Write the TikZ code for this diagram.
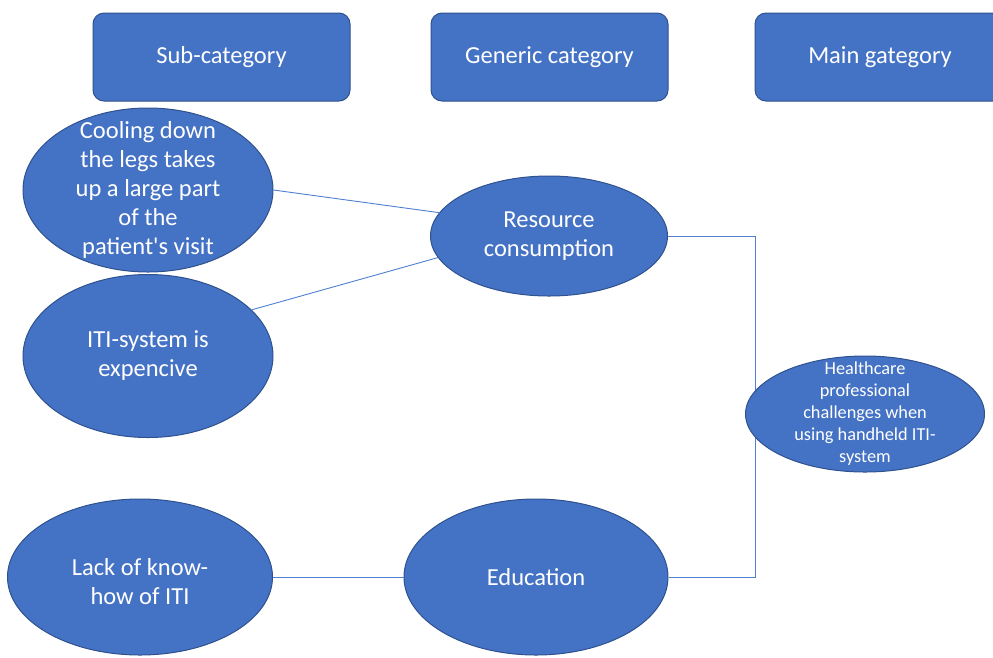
\documentclass[tikz,border=0pt]{standalone}
\usepackage{fontspec}
% Carlito without TeX ligature mapping, so the apostrophe stays straight
\newfontfamily\labelfont{Carlito}
\usetikzlibrary{shapes.geometric}
\definecolor{fillblue}{HTML}{4472C4}
\definecolor{edgeblue}{HTML}{2F528F}
\definecolor{linkblue}{HTML}{4F7FD0}

\begin{document}
\begin{tikzpicture}[x=1pt,y=-1pt,
  bubble/.style={ellipse, draw=edgeblue, line width=1pt, fill=fillblue,
    inner sep=0pt},
  bubtext/.style={text=white, inner sep=0pt, align=center,
    font=\labelfont\fontsize{24.5}{29}\selectfont},
  header/.style={rectangle, rounded corners=11pt, draw=edgeblue,
    line width=1pt, fill=fillblue, text=white, inner sep=0pt,
    minimum height=88pt, font=\labelfont\fontsize{24.5}{29}\selectfont},
  link/.style={draw=linkblue, line width=0.9pt}]
\useasboundingbox (0,0) rectangle (993,657);

% column headings
\node[header, minimum width=257pt] (sub) at (221.5,57) {Sub-category};
\node[header, minimum width=237pt] (gen) at (549.5,57) {Generic category};
\node[header, minimum width=250pt] (main) at (880,57) {Main gategory};

% connector points
\coordinate (bend) at (755,236);

% sub-categories
\node[bubble, minimum width=250pt, minimum height=164pt] (cool) at (148,190) {};
\node[bubtext] (cooltext) at (cool.center)
  {Cooling down\\the legs takes\\up a large part\\of the\\patient's visit};
\node[bubble, minimum width=250pt, minimum height=163pt] (iti) at (148,356) {};
\node[bubtext] (ititext) at (iti.center) {ITI-system is\\expencive};
\node[bubble, minimum width=265pt, minimum height=156pt] (lack) at (140,577) {};
\node[bubtext] (lacktext) at ([yshift=-5pt]lack.center) {Lack of know-\\how of ITI};

% generic categories
\node[bubble, minimum width=237pt, minimum height=120pt] (res) at (549,236) {};
\node[bubtext] (restext) at (res.center) {Resource\\consumption};
\node[bubble, minimum width=264pt, minimum height=156pt] (edu) at (536,577) {};
\node[bubtext] (edutext) at (edu.center) {Education};

% connectors
\draw[link] (cool.east) -- (res.168);
\draw[link] (iti.24) -- (res.191);
\draw[link] (lack.east) -- (edu.west);
\draw[link] (res.east) -- (bend) |- (edu.east);

% main category
\node[bubble, minimum width=239pt, minimum height=116pt] (hc) at (865,414) {};
\node[bubtext, font=\labelfont\fontsize{18.3}{22}\selectfont] (hctext) at (hc.center)
  {Healthcare\\professional\\challenges when\\using handheld ITI-\\system};
\end{tikzpicture}
\end{document}
